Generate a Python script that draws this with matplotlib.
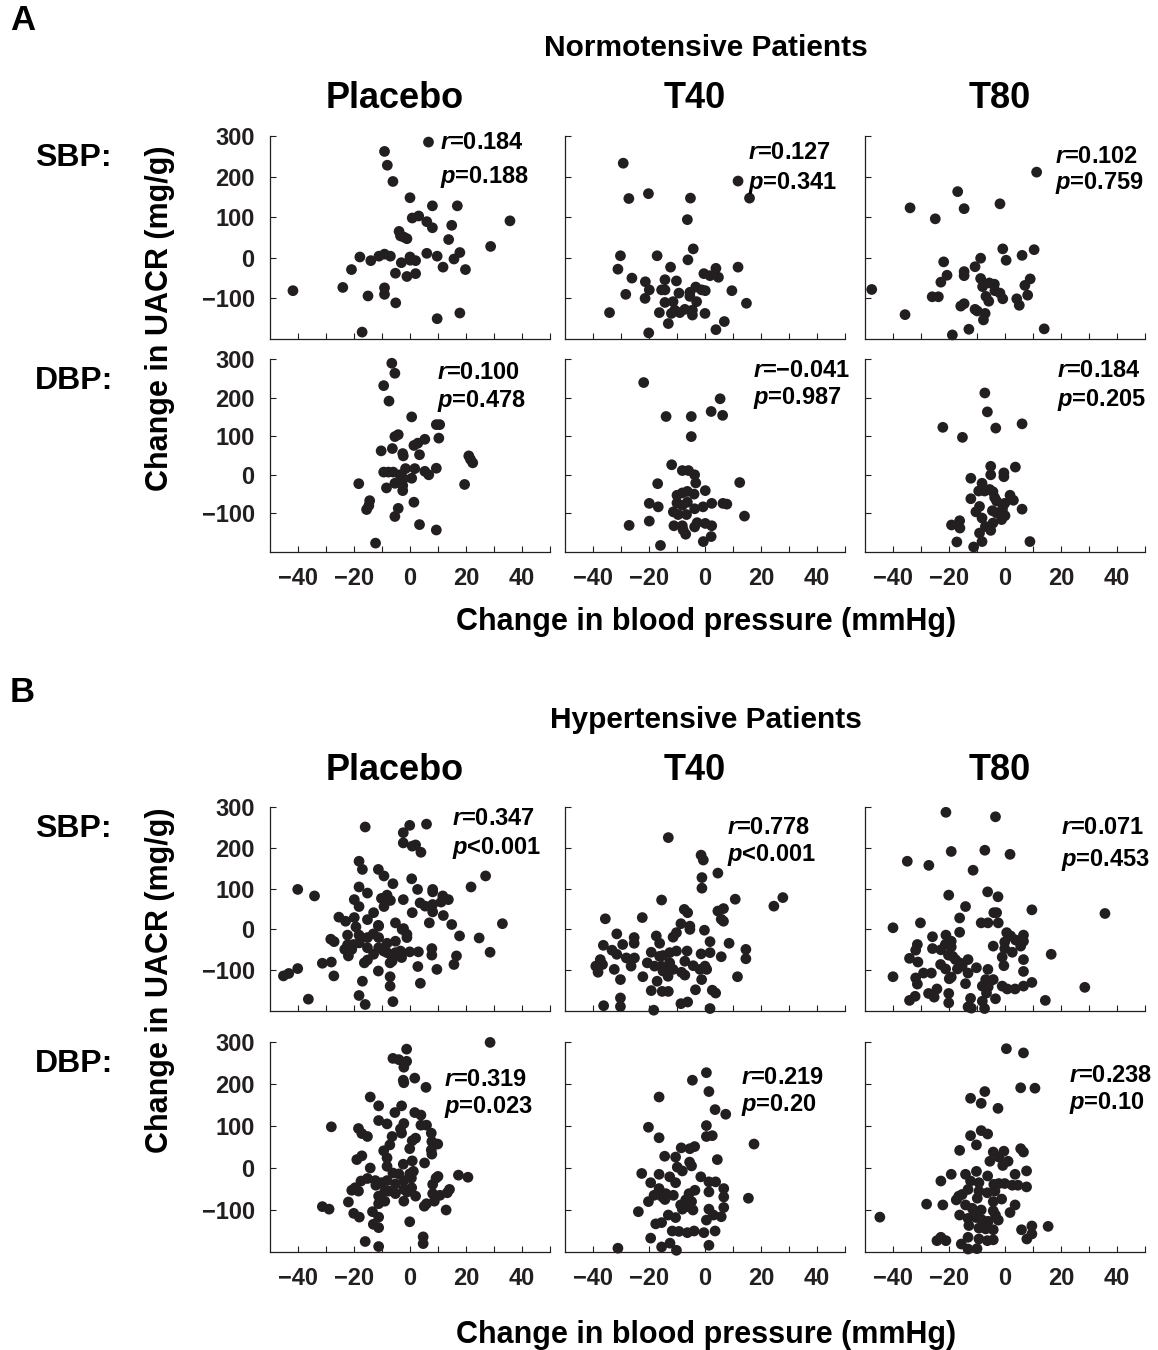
import numpy as np
import matplotlib.pyplot as plt

plt.rcParams['font.family'] = ['Liberation Sans', 'DejaVu Sans']
plt.rcParams['font.weight'] = 'bold'
plt.rcParams['mathtext.fontset'] = 'custom'
plt.rcParams['mathtext.it'] = 'Liberation Sans:italic:bold'
plt.rcParams['mathtext.rm'] = 'Liberation Sans:bold'

# --------------------------- DATA -------------------------------
# Change in blood pressure (x, mmHg) vs change in UACR (y, mg/g)
# A: normotensive patients
na_sbp_pla_x = [6.6, -9.1, -8.1, -6.1, 0, 8.0, 16.9, 0.8, 3.1, 6.0, 8.0, 14.9, 35.7, -3.9, -3.4, -2.2, -1.1, 13.8,
                28.8, -17.9, -14.0, -11.1, -9.1, -7.0, -3.1, 0, 0.1, 2.0, 6.0, 9.7, 15.7, 17.8, -20.9, -5.2, -1.1,
                2.0, 11.8, 19.8, -41.8, -24.0, -9.1, -9.1, -15.0, -5.1, 9.7, 17.8, -17.1]
na_sbp_pla_y = [285, 262, 228, 188, 148, 128, 128, 98, 103, 89, 74, 80, 91, 65, 54, 51, 47, 45, 28, 2, -7, 4, 9, 4,
                -12, 2, -6, -7, 11, 4, -3, 13, -29, -38, -46, -39, -23, -29, -81, -73, -74, -90, -94, -111, -150,
                -136, -183]
na_dbp_pla_x = [-6.5, -5.4, -9.4, -7.5, 0.6, 9.4, 10.6, 10.3, 5.3, -5.4, -4.2, -6.3, -10.3, -2.6, -2.4, 1.4, 2.8,
                3.4, 21.0, 21.6, 22.4, -9.4, -7.7, -6.0, -3.6, -1.6, -2.3, 0.6, 1.7, 5.3, 6.7, 9.4, -5.4, -2.6, -2.6,
                -8.4, -18.3, 19.5, -14.4, -14.7, -15.5, 1.4, -4.2, -5.4, 3.4, 9.4, -12.3]
na_dbp_pla_y = [289, 263, 231, 191, 150, 130, 130, 95, 92, 99, 104, 68, 62, 55, 49, 76, 82, 52, 49, 40, 31, 7, 7, 7,
                0, 16, -10, -9, 16, 9, 0, 17, -22, -28, -41, -34, -23, -25, -67, -80, -90, -71, -87, -108, -129,
                -143, -177]
na_sbp_t40_x = [-29.2, -27.2, -20.2, -5.2, 11.8, 15.9, -6.3, -4.2, -6.1, -30.2, -17.1, -31.1, -12.3, 3.9, 11.8,
                -26.1, -21.3, -14.3, -10.2, -0.4, 1.8, 4.8, -28.3, -21.4, -19.9, -15.5, -14.3, -9.3, -5.4, -3.3,
                -1.2, 0.1, 9.6, -14.3, -11.4, -3.0, 14.8, -34.1, -16.3, -12.0, -10.8, -9.0, -7.2, -4.5, -4.5, 0,
                -13.1, 6.9, 3.9, -20.1, -5.4]
na_sbp_t40_y = [233, 146, 158, 147, 189, 147, 94, 22, -5, 5, 5, -28, -23, -26, -23, -50, -59, -54, -57, -39, -44,
                -48, -90, -100, -79, -79, -79, -87, -85, -72, -79, -81, -81, -110, -108, -108, -112, -135, -135,
                -137, -129, -135, -127, -129, -141, -137, -162, -157, -177, -185, -95]
na_dbp_t40_x = [-21.9, 5.4, 2.2, 6.3, -13.9, -4.9, -4.9, -11.9, -8.1, -5.9, -3.7, -3.3, -16.9, 12.4, 0.1, -10.0,
                -8.1, -6.3, -3.9, -19.9, -16.7, -10.0, -8.1, -6.3, -3.7, -0.7, 2.4, 6.4, 7.8, -11.3, -9.6, -6.6,
                -19.9, 14.1, -27.1, -11.1, -8.1, -3.7, -2.8, 0.1, 2.4, -6.9, 2.2, -0.6, -15.9, -7.8]
na_dbp_t40_y = [239, 197, 164, 154, 151, 151, 99, 26, 11, 11, 0, -21, -23, -20, -41, -53, -47, -43, -50, -74, -83,
                -73, -79, -71, -88, -83, -74, -74, -76, -96, -103, -103, -120, -107, -131, -132, -132, -135, -124,
                -126, -132, -154, -160, -173, -183, -143]
na_sbp_t80_x = [11.3, -16.9, -33.9, -14.6, -1.8, -24.9, -0.8, 10.4, 6.1, 0.4, -8.7, -21.9, -10.7, -14.6, -14.6,
                -20.7, -22.9, -8.7, -8.0, -5.6, -3.8, -3.6, -1.8, -0.8, -6.8, -5.8, 7.1, 9.0, 8.1, 4.2, 5.1, -47.6,
                -26.0, -23.8, -15.8, -14.6, -10.7, -9.9, -7.1, -7.7, -35.7, -18.8, -12.9, 14.0]
na_sbp_t80_y = [211, 163, 123, 121, 133, 96, 22, 20, 6, -6, -1, -10, -22, -34, -44, -43, -60, -51, -71, -62, -65,
                -81, -87, -101, -95, -107, -68, -52, -92, -101, -117, -78, -96, -96, -119, -113, -127, -131, -137,
                -153, -140, -190, -176, -175]
na_dbp_t80_x = [-7.2, -6.3, -22.2, -3.3, 6.1, -15.2, -5.1, 3.7, -0.4, -5.1, -0.4, -12.2, -8.2, -9.4, -7.3, -5.5,
                -4.3, -3.7, -3.0, 1.8, 3.0, -12.2, -9.1, -10.4, -0.1, -0.9, 0, -1.2, -4.5, -3.0, 6.1, -8.2, -4.3,
                -7.0, -5.1, -9.1, -16.2, -19.1, -16.1, -17.2, -8.2, -11.2, 8.9]
na_dbp_t80_y = [212, 163, 123, 121, 132, 97, 22, 20, 5, 0, -5, -9, -22, -42, -42, -38, -44, -59, -68, -53, -66,
                -62, -82, -96, -74, -89, -106, -116, -93, -99, -89, -112, -125, -134, -144, -151, -119, -130, -138,
                -174, -173, -187, -173]

# B: hypertensive patients
hy_sbp_pla_x = [-16.0, -0.1, 5.9, -2.4, -2.4, 0.8, 2.0, 3.9, -18.2, -17.0,
                -11.3, -9.3, 0.6, -6.1, 27.0, 21.8, -40.1, -34.1, -18.2, -15.2,
                -19.9, -18.2, -9.3, -10.2, -8.2, -7.0, -2.4, 2.7, 8.1, 8.1,
                3.6, 5.4, 8.1, 8.1, 11.1, 11.7, 13.7, 0.8, -13.0, -25.4,
                -23.0, -19.9, -15.2, 11.9, 6.9, 14.9, 33.0, -5.2, -11.3, -19.3,
                -2.3, -22.3, -18.2, -15.2, -13.1, -11.2, -1.1, -1.1, 17.7, 24.7,
                -28.3, -27.1, -22.3, -20.2, -18.1, -15.2, -8.2, -5.2, -23.3, -20.8,
                -11.2, -9.4, -5.2, -3.4, -0.1, 3.0, -22.0, -13.0, -8.2, -6.4,
                -3.0, 7.8, 7.8, 28.6, 16.6, 15.7, -31.3, -28.1, -16.3, -15.2,
                -6.4, 2.8, 9.6, -40.1, -43.3, -45.2, -27.2, -11.3, -7.1, -17.0,
                -7.1, 3.7, -36.3, -18.2, -16.0, -6.1, -7.1, -2.8, -11.2]
hy_sbp_pla_y = [251, 255, 258, 237, 212, 204, 207, 189, 167, 147,
                147, 131, 124, 112, 131, 104, 98, 82, 104, 89,
                73, 56, 56, 76, 84, 71, 73, 98, 98, 92,
                65, 57, 61, 43, 67, 82, 73, 41, 41, 30,
                20, 29, 24, 34, 16, 12, 14, 16, 10, 6,
                2, -14, -14, -20, -11, -20, -12, -20, -16, -21,
                -24, -30, -38, -37, -33, -45, -34, -29, -49, -49,
                -45, -53, -57, -53, -55, -55, -65, -61, -57, -65,
                -69, -47, -63, -56, -65, -86, -83, -80, -82, -75,
                -78, -91, -98, -96, -108, -114, -114, -102, -116, -127,
                -139, -132, -171, -162, -184, -177, -82, 0, 8]
hy_dbp_pla_x = [28.6, -1.2, -6.1, -4.0, -1.2, -2.2, -2.4, -2.2, 1.7, 5.7,
                -14.2, -11.2, -3.0, -5.4, 1.7, 3.9, -11.2, -8.2, -2.2, -3.0,
                -3.4, -28.1, -18.4, -17.2, -15.2, 3.9, 5.9, 2.0, 0.8, 7.6,
                7.8, 7.6, 7.8, 9.9, -6.4, -7.2, -9.4, -8.2, -8.2, -0.1,
                -17.2, -19.0, -14.2, -2.4, 0.8, 5.2, -6.1, -4.0, -0.1, 0.5,
                17.3, 20.7, 10.0, 9.3, -15.2, -17.5, -12.4, -10.2, -8.2, -5.2,
                -2.2, 8.1, -19.6, -20.8, -18.4, -12.2, -9.0, 0.6, -2.2, -1.0,
                -5.2, 2.0, 8.1, 10.7, 14.1, 13.3, -11.2, -9.0, -11.2, -2.2,
                8.7, 5.1, 5.9, -22.0, -31.3, -28.9, 12.9, -20.1, -18.1, -13.4,
                -11.2, -13.1, -11.2, -0.1, 4.7, 4.7, -16.0, -11.2, -7.6, 1.2]
hy_dbp_pla_y = [299, 283, 261, 258, 254, 240, 209, 203, 214, 192,
                169, 148, 148, 132, 132, 126, 113, 105, 106, 83,
                93, 98, 94, 82, 75, 102, 102, 71, 65, 83,
                63, 43, 33, 57, 75, 55, 41, 24, 4, 46,
                29, 20, 0, 9, 17, 12, -12, -14, -14, -24,
                -17, -22, -20, -24, -25, -31, -30, -35, -30, -38,
                -30, -39, -47, -53, -55, -41, -55, -47, -51, -57,
                -61, -67, -61, -65, -51, -59, -67, -79, -85, -79,
                -79, -91, -85, -81, -92, -98, -100, -108, -117, -104,
                -117, -134, -142, -128, -164, -180, -175, -187, -55, -8]
hy_sbp_t40_x = [-13.1, -1.4, -0.6, 4.6, -1.1, -1.1, -15.5, 10.8, 24.6, 27.8,
                4.6, 6.6, 6.6, -7.4, -6.2, -8.6, -5.4, -5.4, -0.2, -35.6,
                -22.4, -31.5, -25.3, -25.3, -17.4, -16.2, -11.4, -10.2, 1.8, 8.6,
                -36.3, -33.2, -31.5, -29.4, -28.1, -25.2, -26.4, -19.2, -15.0, -12.6,
                -10.2, -6.4, -1.4, 1.8, 5.8, 14.6, 14.6, -39.0, -37.4, -36.6,
                -38.2, -32.4, -20.6, -18.0, -15.6, -12.6, -15.0, -11.4, -8.4, -7.2,
                -4.2, -1.8, 0.6, 0, -22.2, -17.1, -13.2, -7.2, -1.2, -30.2,
                -19.2, -15.3, -13.1, -3.4, 2.6, 3.8, 11.6, -36.2, -30.2, -30.2,
                -18.3, -8.6, -6.2, 1.8, 5.8, -16.2, -13.8]
hy_sbp_t40_y = [225, 182, 170, 138, 127, 101, 72, 74, 57, 78,
                45, 51, 20, 49, 41, 14, 8, 0, -2, 26,
                29, -11, -20, -34, -16, -34, -19, -8, -30, -34,
                -39, -51, -61, -37, -70, -70, -90, -56, -64, -57,
                -53, -53, -60, -57, -67, -49, -72, -90, -74, -86,
                -105, -98, -82, -90, -90, -82, -102, -98, -105, -78,
                -89, -98, -98, -90, -116, -127, -115, -112, -123, -123,
                -150, -152, -152, -148, -149, -156, -116, -187, -189, -168,
                -198, -182, -178, -194, 25, -66, -102]
hy_dbp_t40_x = [0.5, -4.5, 1.4, -16.4, 3.6, 7.4, 17.5, -20.2, 0.5, -16.4,
                0.5, 2.6, -8.5, -5.4, -3.7, -14.4, -10.5, 4.4, -5.5, -4.8,
                -9.9, -8.1, -22.6, -16.4, -12.6, -10.5, -19.4, -1.5, 1.4, 3.8,
                -16.4, -17.0, -15.2, -11.3, -14.3, -20.2, -23.8, -3.6, -5.7, -4.8,
                -6.9, -8.7, -6.3, -4.3, 1.4, 6.7, 6.7, 6.7, 5.8, 15.5,
                1.4, 0.5, 3.0, -17.6, -15.5, -13.1, -10.5, -11.7, -9.3, -6.3,
                -3.9, -0.4, 3.6, -19.4, -12.5, -15.5, -10.2, 1.4, -31.1, -14.0,
                -8.1, -18.2]
hy_dbp_t40_y = [227, 209, 182, 169, 139, 128, 57, 97, 101, 72,
                75, 77, 48, 46, 51, 28, 26, 20, 14, 5,
                2, -7, -13, -15, -21, -35, -35, -21, -33, -33,
                -49, -62, -69, -65, -75, -80, -104, -53, -61, -80,
                -76, -88, -92, -100, -57, -49, -69, -94, -116, -72,
                -98, -124, -112, -133, -130, -112, -118, -150, -151, -154,
                -150, -154, -150, -167, -179, -188, -196, -184, -191, -61,
                -98, -65]
hy_sbp_t80_x = [-21.1, -3.4, -19.2, -7.2, 1.8, -34.9, -27.2, -11.4, -20.1, -6.2,
                -2.5, -14.1, 9.6, 35.7, -16.2, -4.0, -3.0, -30.2, -8.5, -6.1,
                -2.4, -40.0, -16.2, -25.9, -21.1, -19.2, -19.2, -31.3, -31.9, -25.9,
                -22.9, 0.6, 2.0, 3.8, 6.6, 5.6, -0.1, -4.2, -0.1, 2.6,
                -1.0, -0.4, 6.6, 6.6, 16.5, -34.1, -31.1, -23.0, -21.2, -20.2,
                -18.7, -17.7, -16.2, -17.0, -15.3, -13.2, -13.2, -10.2, -6.1, -29.1,
                -26.3, -31.9, -31.3, -40.0, -19.9, -19.2, -14.1, -8.1, -6.9, -5.4,
                -4.2, -6.0, -1.0, 0.8, 3.6, 6.6, 9.6, 28.5, -27.3, -24.3,
                -32.1, -34.1, -25.3, -20.1, -20.1, -12.3, -13.2, -12.0, -8.1, -7.3,
                -3.4, 14.4, -6.6, -21.3, 6.6]
hy_sbp_t80_y = [287, 276, 191, 194, 184, 167, 157, 145, 84, 92,
                80, 56, 48, 39, 28, 41, 41, 16, 16, 16,
                16, 4, -7, -18, -14, -29, -43, -37, -51, -47,
                -50, -8, -16, -26, -14, -41, -31, -41, -47, -56,
                -68, -89, -74, -103, -61, -71, -80, -86, -97, -63,
                -66, -74, -82, -97, -90, -74, -107, -94, -98, -107,
                -107, -119, -134, -116, -121, -117, -133, -139, -123, -127,
                -123, -141, -139, -146, -146, -139, -130, -142, -157, -146,
                -164, -174, -166, -157, -180, -169, -190, -193, -176, -194,
                -170, -174, -156, -37, -29]
hy_dbp_t80_x = [0.5, 6.6, 5.6, 10.7, -12.3, -7.2, -8.5, -2.5, -8.5, -6.2,
                -12.3, -10.2, -16.2, 5.6, 6.6, -4.2, -0.4, -2.2, -5.4, 1.1,
                -0.8, -19.2, -14.1, -10.2, -6.2, 3.6, 7.7, -22.9, -12.3, -9.3,
                -4.0, -2.2, -0.1, 2.6, 4.6, 7.7, -13.2, -15.3, -17.4, -9.3,
                -6.3, -3.6, -9.9, -4.2, -1.2, -28.0, -22.2, -14.1, -11.7, -8.5,
                -4.2, -3.4, 1.8, 3.6, -16.2, -13.2, -10.3, -8.1, -6.0, -2.4,
                -12.9, -9.3, -6.9, -4.2, 5.9, 9.6, 9.6, 7.8, 15.4, -44.7,
                -24.3, -22.9, -21.1, -15.6, -13.2, -13.2, -10.0, -9.3, -6.3, -4.2,
                -16.5, -11.1]
hy_dbp_t80_y = [284, 274, 191, 190, 166, 182, 154, 142, 89, 81,
                77, 55, 42, 46, 38, 38, 40, 26, 16, 16,
                6, -15, -15, -8, -19, -15, -7, -31, -31, -35,
                -39, -37, -37, -41, -41, -45, -51, -63, -76, -55,
                -59, -55, -72, -80, -74, -86, -88, -88, -96, -100,
                -102, -112, -106, -88, -112, -120, -118, -124, -127, -124,
                -137, -143, -145, -147, -147, -138, -157, -169, -139, -117,
                -173, -165, -173, -181, -165, -193, -192, -169, -173, -171,
                -67, -108]

groups = ['Placebo', 'T40', 'T80']
rows = ['SBP:', 'DBP:']
x_ticks = [-40, -30, -20, -10, 0, 10, 20, 30, 40, 50]
x_tick_labels = ['\u221240', '', '\u221220', '', '0', '', '20', '', '40', '']
y_ticks = [-100, 0, 100, 200, 300]
y_tick_labels = ['\u2212100', '0', '100', '200', '300']

# r and p text per panel: [row][column]
na_stats = [[('0.184', '=0.188'), ('0.127', '=0.341'), ('0.102', '=0.759')],
            [('0.100', '=0.478'), ('\u22120.041', '=0.987'), ('0.184', '=0.205')]]
hy_stats = [[('0.347', '<0.001'), ('0.778', '<0.001'), ('0.071', '=0.453')],
            [('0.319', '=0.023'), ('0.219', '=0.20'), ('0.238', '=0.10')]]

na_data = [[(na_sbp_pla_x, na_sbp_pla_y), (na_sbp_t40_x, na_sbp_t40_y), (na_sbp_t80_x, na_sbp_t80_y)],
           [(na_dbp_pla_x, na_dbp_pla_y), (na_dbp_t40_x, na_dbp_t40_y), (na_dbp_t80_x, na_dbp_t80_y)]]
hy_data = [[(hy_sbp_pla_x, hy_sbp_pla_y), (hy_sbp_t40_x, hy_sbp_t40_y), (hy_sbp_t80_x, hy_sbp_t80_y)],
           [(hy_dbp_pla_x, hy_dbp_pla_y), (hy_dbp_t40_x, hy_dbp_t40_y), (hy_dbp_t80_x, hy_dbp_t80_y)]]

# --------------------------- LAYOUT (pixels) ---------------------------
W, H = 1158, 1350
COL_LEFT = [270, 565, 865]
AX_W = 280
DOT = '#231f20'
# position of r / p text in axes fraction: (x, y_r, y_p)
na_stat_pos = [[(0.607, 0.97, 0.80), (0.654, 0.92, 0.77), (0.68, 0.90, 0.77)],
               [(0.596, 0.93, 0.78), (0.67, 0.94, 0.80), (0.686, 0.94, 0.79)]]
hy_stat_pos = [[(0.65, 0.946, 0.80), (0.58, 0.90, 0.765), (0.70, 0.90, 0.74)],
               [(0.62, 0.82, 0.69), (0.63, 0.83, 0.70), (0.73, 0.84, 0.71)]]


def fig_text(fig, x, y, s, **kw):
    # place text with pixel coordinates measured from the top-left corner
    fig.text(x / W, 1 - y / H, s, **kw)


def panel(fig, letter, title, title_y, row_boxes, data, stats, stat_pos, ylab_y, xlab_y):
    fig_text(fig, 10, title_y - 28, letter, size=25, ha='left', va='center')
    fig_text(fig, 706, title_y, title, size=21.5, ha='center', va='center')
    for xc, g in zip([395, 695, 1000], groups):
        fig_text(fig, xc, title_y + 51, g, size=26, ha='center', va='center')
    for i, (top, bot) in enumerate(row_boxes):
        fig_text(fig, 35, top + 22, rows[i], size=23, ha='left', va='center')
        for j in range(3):
            ax = fig.add_axes([COL_LEFT[j] / W, 1 - bot / H, AX_W / W, (bot - top) / H])
            x, y = data[i][j]
            ax.scatter(x, y, s=60, color=DOT, edgecolors='none', clip_on=False, zorder=3)
            ax.set_xlim(-50, 50)
            ax.set_ylim(-200, 300)
            for side in ['top', 'right']:
                ax.spines[side].set_visible(False)
            for side in ['left', 'bottom']:
                ax.spines[side].set_linewidth(0.9)
                ax.spines[side].set_color('#231f20')
            ax.set_xticks(x_ticks)
            ax.set_yticks(y_ticks)
            ax.tick_params(direction='in', length=4, width=0.8, labelsize=17, colors='#231f20')
            ax.tick_params(axis='y', pad=11)
            ax.tick_params(axis='x', pad=11)
            if i == 1:
                ax.set_xticklabels(x_tick_labels)
            else:
                ax.set_xticklabels([])
            if j == 0:
                ax.set_yticklabels(y_tick_labels)
            else:
                ax.set_yticklabels([])
            r_val, p_val = stats[i][j]
            px, ry, py = stat_pos[i][j]
            ax.text(px, ry, '$r$=' + r_val, transform=ax.transAxes, size=17, ha='left', va='center')
            ax.text(px, py, '$p$' + p_val, transform=ax.transAxes, size=17, ha='left', va='center')
    fig_text(fig, 160, ylab_y, 'Change in UACR (mg/g)', size=22, rotation=90, ha='center', va='center')
    fig_text(fig, 706, xlab_y, 'Change in blood pressure (mmHg)', size=22, ha='center', va='center')


fig = plt.figure(figsize=(W / 100, H / 100), dpi=100)
panel(fig, 'A', 'Normotensive Patients', 48, [(136, 339), (359, 552)],
      na_data, na_stats, na_stat_pos, 318, 622)
panel(fig, 'B', 'Hypertensive Patients', 720, [(807, 1011), (1042, 1252)],
      hy_data, hy_stats, hy_stat_pos, 980, 1335)
fig.savefig('out.png', dpi=100)
